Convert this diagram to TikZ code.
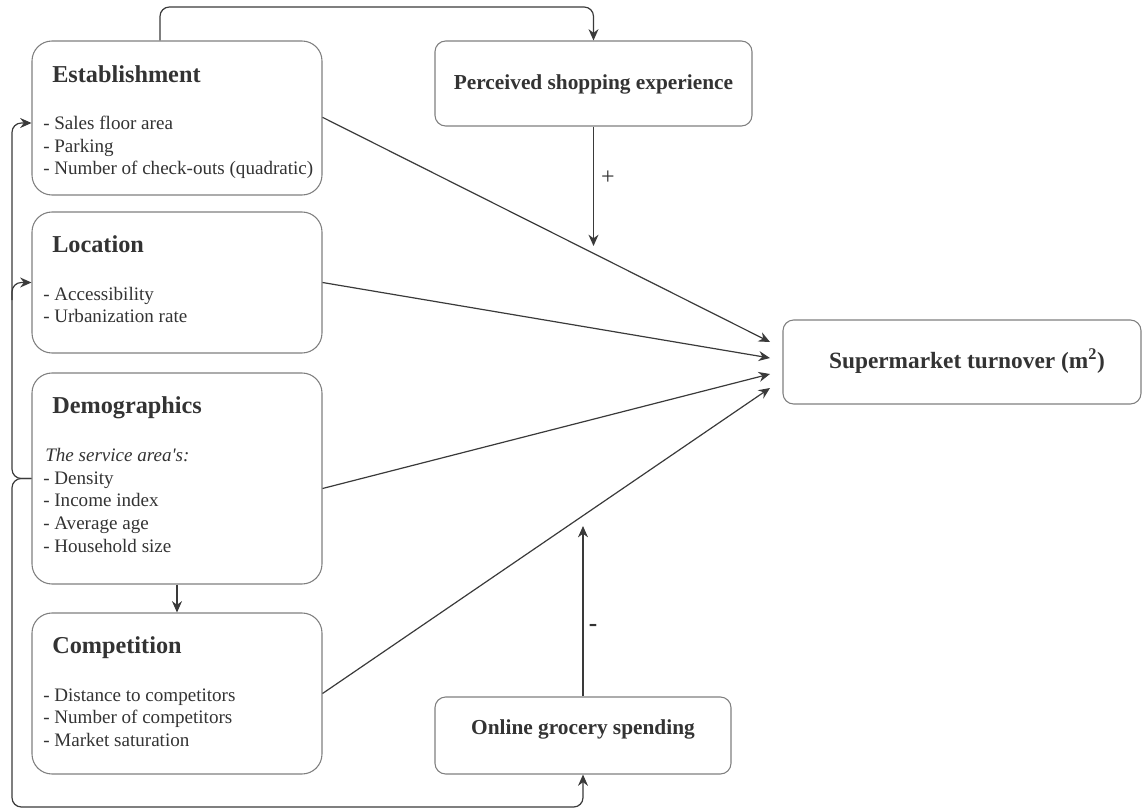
\documentclass[tikz,border=0pt]{standalone}
\usepackage{fontspec}
\setmainfont{Liberation Serif}
\usetikzlibrary{arrows.meta,fit}
\definecolor{txt}{HTML}{333333}
\definecolor{edge}{HTML}{7F7F7F}
\definecolor{ln}{HTML}{3A3A3A}
\begin{document}
\begin{tikzpicture}[x=0.75pt,y=-0.75pt,
  bigbox/.style={draw=edge, line width=0.8pt, rounded corners=15pt, inner sep=0pt},
  smallbox/.style={draw=edge, line width=0.8pt, rounded corners=8pt, inner sep=0pt},
  ttl/.style={font=\fontsize{18.2}{22}\selectfont\bfseries, text=txt, anchor=base west, inner sep=0pt},
  itm/.style={font=\fontsize{14.3}{17}\selectfont, text=txt, anchor=base west, inner sep=0pt},
  hd/.style={font=\fontsize{16}{19}\selectfont\bfseries, text=txt, inner sep=0pt},
  arr/.style={draw=ln, line width=0.9pt, -{Stealth[length=8.5pt,width=7.5pt]}},
  rc/.style={rounded corners=7pt}]
\useasboundingbox (0,0) rectangle (1143,810);

% boxes
\node[bigbox, fit={(32,41) (322,195)}] (est) {};
\node[bigbox, fit={(32,212) (322,353)}] (loc) {};
\node[bigbox, fit={(32,373) (322,584)}] (dem) {};
\node[bigbox, fit={(32,613) (322,774)}] (com) {};
\node[smallbox, fit={(435,41) (752,126)}] (per) {};
\node[smallbox, fit={(435,697) (731,774)}] (onl) {};
\node[smallbox, fit={(783,320) (1141,404)}] (tur) {};

% texts
\node[ttl] (estT) at (52,82) {Establishment};
\node[itm] (est1) at (43,129) {- Sales floor area};
\node[itm] (est2) at (43,152) {- Parking};
\node[itm] (est3) at (43,174) {- Number of check-outs (quadratic)};

\node[ttl] (locT) at (52,252) {Location};
\node[itm] (loc1) at (43,300) {- Accessibility};
\node[itm] (loc2) at (43,322) {- Urbanization rate};

\node[ttl] (demT) at (52,413) {Demographics};
\node[itm] (dem0) at (45,461) {\itshape The service area\textquotesingle s:};
\node[itm] (dem1) at (43,484) {- Density};
\node[itm] (dem2) at (43,506) {- Income index};
\node[itm] (dem3) at (43,529) {- Average age};
\node[itm] (dem4) at (43,552) {- Household size};

\node[ttl] (comT) at (52,653) {Competition};
\node[itm] (com1) at (43,701) {- Distance to competitors};
\node[itm] (com2) at (43,723) {- Number of competitors};
\node[itm] (com3) at (43,746) {- Market saturation};

\node[hd] (perT) at (593.5,84) {Perceived shopping experience};
\node[hd] (onlT) at (583,729) {Online grocery spending};
\node[hd, font=\fontsize{17.5}{20}\selectfont\bfseries] (turT) at (967,361) {Supermarket turnover (m\textsuperscript{2})};

\node[itm, anchor=center, font=\fontsize{18}{20}\selectfont] (plus) at (608,178) {+};
\node[itm, anchor=center, font=\fontsize{19}{20}\selectfont\bfseries] (minus) at (593,628) {-};

% coordinates
\coordinate (topA) at (160,7);
\coordinate (lft) at (12,300);
\coordinate (bot) at (12,807);
\coordinate (t1) at (770,342);
\coordinate (t2) at (770,358);
\coordinate (t3) at (770,374);
\coordinate (t4) at (770,388);
\coordinate (plusEnd) at (593.5,246);
\coordinate (minusEnd) at (583,526);

% connectors
\draw[arr, rc] (est.north -| topA) -- (topA) -| (per.north);
\draw[arr] (per.south) -- (plusEnd);
\draw[arr] (onl.north) -- (minusEnd);

\draw[arr] ([yshift=0.5pt]est.east) -- (t1);
\draw[arr] (loc.east) -- (t2);
\draw[arr] ([yshift=-7.5pt]dem.east) -- (t3);
\draw[arr] (com.east) -- (t4);

\draw[arr] (dem.south) -- (com.north);

\draw[arr, rc] (dem.west) -| (lft) |- ([yshift=-3.75pt]est.west);
\draw[arr, rc] (lft) |- (loc.west);
\draw[arr, rc] (dem.west) -| (bot) -| (onl.south);
\end{tikzpicture}
\end{document}
